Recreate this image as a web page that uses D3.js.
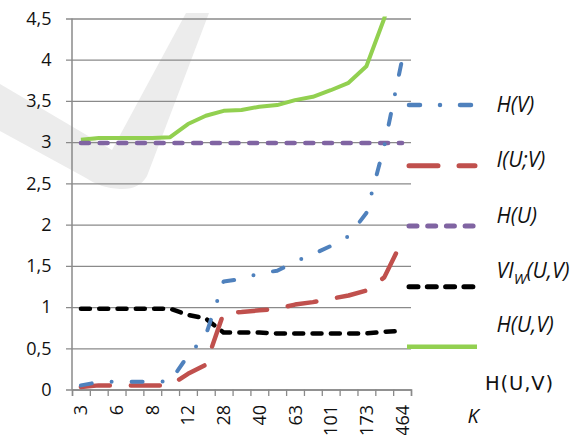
<!DOCTYPE html>
<html>
<head>
<meta charset="utf-8">
<script src="https://cdn.jsdelivr.net/npm/d3@7"></script>
<style>
  html, body { margin: 0; padding: 0; background: #fff; }
  svg { display: block; }
</style>
</head>
<body>
<svg id="chart" width="586" height="435"></svg>
<script>
// Number of clusters K (category axis; every other one is labelled)
const kValues = ["3", "4", "6", "7", "8", "10", "12", "20", "28", "33", "40", "50", "63", "80", "101", "130", "173", "250", "464"];

// Series values per K
const hV   = [0.05, 0.09, 0.095, 0.095, 0.095, 0.10, 0.41, 0.66, 1.31, 1.34, 1.41, 1.44, 1.55, 1.64, 1.74, 1.86, 2.14, 2.95, 4.00];
const iUV  = [0.03, 0.05, 0.05, 0.05, 0.05, 0.05, 0.19, 0.30, 0.93, 0.94, 0.96, 0.98, 1.03, 1.06, 1.10, 1.14, 1.20, 1.36, 1.80];
const hU   = [2.99, 2.99, 2.99, 2.99, 2.99, 2.99, 2.99, 2.99, 2.99, 2.99, 2.99, 2.99, 2.99, 2.99, 2.99, 2.99, 2.99, 2.99, 2.99];
const viW  = [0.98, 0.98, 0.98, 0.98, 0.98, 0.98, 0.905, 0.86, 0.69, 0.69, 0.69, 0.68, 0.68, 0.68, 0.68, 0.68, 0.68, 0.70, 0.71];
const hUV  = [3.03, 3.05, 3.05, 3.05, 3.05, 3.06, 3.22, 3.32, 3.38, 3.39, 3.43, 3.45, 3.51, 3.55, 3.63, 3.72, 3.92, 4.50, 5.30];

// Value axis ticks
const yTicks = [0, 0.5, 1, 1.5, 2, 2.5, 3, 3.5, 4, 4.5];

// Legend texts
const legendLabels = ["H(V)", "I(U;V)", "H(U)", "VI_W(U,V)", "H(U,V)"];
const extraLabel = "H(U,V)";
const axisTitle = "K";

// ---- drawing ----
const svg = d3.select("#chart");
const plot = { left: 72, right: 411, top: 18.5, bottom: 389.5 };

const x = d3.scaleBand().domain(kValues).range([plot.left, plot.right]).padding(0);
const xc = k => x(k) + x.bandwidth() / 2;
const y = d3.scaleLinear().domain([0, 4.5]).range([plot.bottom, plot.top]);
const edge = d3.scaleLinear().domain([0, kValues.length]).range([plot.left, plot.right]);

const gridColor = "#8a8a8a";
const fontMain = "'Open Sans', 'Liberation Sans', sans-serif";

// faint check-mark watermark behind the chart
svg.append("path")
  .attr("fill", "#ececec")
  .attr("d", "M0,84 L112,150 L186,13 L209,13 L147,176 Q139,190 120,189 Q100,188 86,178 L0,131 Z");

// horizontal gridlines (extend left over the tick marks)
const gridAxis = d3.axisLeft(y).tickValues(yTicks).tickSize(plot.right - plot.left + 6).tickFormat("");
svg.append("g")
  .attr("transform", `translate(${plot.right},0)`)
  .call(gridAxis)
  .call(g => g.select(".domain").remove())
  .call(g => g.selectAll("line").attr("stroke", gridColor).attr("stroke-width", 1.3));

// y labels with decimal comma
const locale = d3.formatLocale({ decimal: ",", thousands: " ", grouping: [3], currency: ["", ""] });
const fmt = locale.format(".1~f");
const yAxis = d3.axisLeft(y).tickValues(yTicks).tickSize(0).tickPadding(20.5).tickFormat(fmt);
svg.append("g")
  .attr("transform", `translate(${plot.left},0)`)
  .call(yAxis)
  .call(g => g.select(".domain").remove())
  .call(g => g.selectAll("text")
    .attr("font-family", fontMain).attr("font-size", 18).attr("fill", "#111"));

// y axis line
svg.append("line")
  .attr("x1", plot.left).attr("x2", plot.left)
  .attr("y1", plot.top).attr("y2", plot.bottom)
  .attr("stroke", gridColor).attr("stroke-width", 1.5);

// x axis line and boundary ticks
const xTickAxis = d3.axisBottom(edge).tickValues(d3.range(kValues.length + 1)).tickSize(6.5).tickFormat("");
svg.append("g")
  .attr("transform", `translate(0,${plot.bottom})`)
  .call(xTickAxis)
  .call(g => g.select(".domain").attr("stroke", gridColor).attr("stroke-width", 1.5))
  .call(g => g.selectAll("line").attr("stroke", gridColor).attr("stroke-width", 1.3));

// x labels, every other category, rotated
const xLabelAxis = d3.axisBottom(x).tickValues(kValues.filter((d, i) => i % 2 === 0)).tickSize(0);
svg.append("g")
  .attr("transform", `translate(0,${plot.bottom})`)
  .call(xLabelAxis)
  .call(g => g.select(".domain").remove())
  .call(g => g.selectAll("text")
    .attr("font-family", fontMain).attr("font-size", 18).attr("fill", "#111")
    .attr("transform", "rotate(-90)")
    .attr("text-anchor", "end")
    .attr("x", -15.5).attr("y", 0).attr("dy", "0.36em"));

// axis title K
svg.append("text")
  .attr("x", 473).attr("y", 423)
  .attr("text-anchor", "middle")
  .attr("font-family", fontMain).attr("font-style", "italic").attr("font-size", 20)
  .attr("fill", "#111")
  .text(axisTitle);

// series
const series = [
  { values: hV,  color: "#4f81bd", width: 4,   dash: "11,20,0,20" },
  { values: iUV, color: "#c0504d", width: 4.5, dash: "29,21" },
  { values: hU,  color: "#8064a2", width: 4.5, dash: "8,10.7" },
  { values: viW, color: "#000000", width: 4.5, dash: "9,9.3" },
  { values: hUV, color: "#92d050", width: 4,   dash: null }
];

svg.append("clipPath").attr("id", "plotClip")
  .append("rect")
  .attr("x", plot.left).attr("y", plot.top - 2)
  .attr("width", plot.right - plot.left).attr("height", plot.bottom - plot.top + 10);

const line = d3.line().x((d, i) => xc(kValues[i])).y(d => y(d));
const drawOrder = [4, 2, 3, 1, 0];
const gLines = svg.append("g").attr("clip-path", "url(#plotClip)");
drawOrder.forEach(si => {
  const s = series[si];
  gLines.append("path")
    .attr("d", line(s.values))
    .attr("fill", "none")
    .attr("stroke", s.color)
    .attr("stroke-width", s.width)
    .attr("stroke-linecap", s.dash ? "round" : "butt")
    .attr("stroke-linejoin", "round")
    .attr("stroke-dasharray", s.dash);
});

// legend keys
const keyY = [105, 165.7, 226, 286.7, 346.7];
series.forEach((s, i) => {
  svg.append("line")
    .attr("x1", s.dash ? 409 : 407).attr("x2", s.dash ? 475 : 477)
    .attr("y1", keyY[i]).attr("y2", keyY[i])
    .attr("stroke", s.color)
    .attr("stroke-width", s.width + 0.5)
    .attr("stroke-linecap", s.dash ? "round" : "butt")
    .attr("stroke-dasharray", s.dash);
});

// legend texts (italic)
const textY = [111.5, 166.5, 223, 278, 332];
const lg = svg.append("g")
  .attr("font-family", fontMain).attr("font-style", "italic")
  .attr("font-size", 21).attr("fill", "#111");
legendLabels.forEach((lab, i) => {
  const t = lg.append("text").attr("x", 496.5).attr("y", textY[i]);
  if (lab.includes("_")) {
    const [base, rest] = lab.split("_");
    t.append("tspan").text(base);
    t.append("tspan").attr("font-size", 15).attr("dy", 6).text(rest.slice(0, 1));
    t.append("tspan").attr("dy", -6).text(rest.slice(1));
  } else {
    t.text(lab);
  }
});

// upright label below the legend
svg.append("text")
  .attr("x", 485).attr("y", 389.5)
  .attr("font-family", "'DejaVu Sans', sans-serif").attr("font-size", 19.5)
  .attr("fill", "#111")
  .attr("textLength", 68).attr("lengthAdjust", "spacing")
  .text(extraLabel);
</script>
</body>
</html>
